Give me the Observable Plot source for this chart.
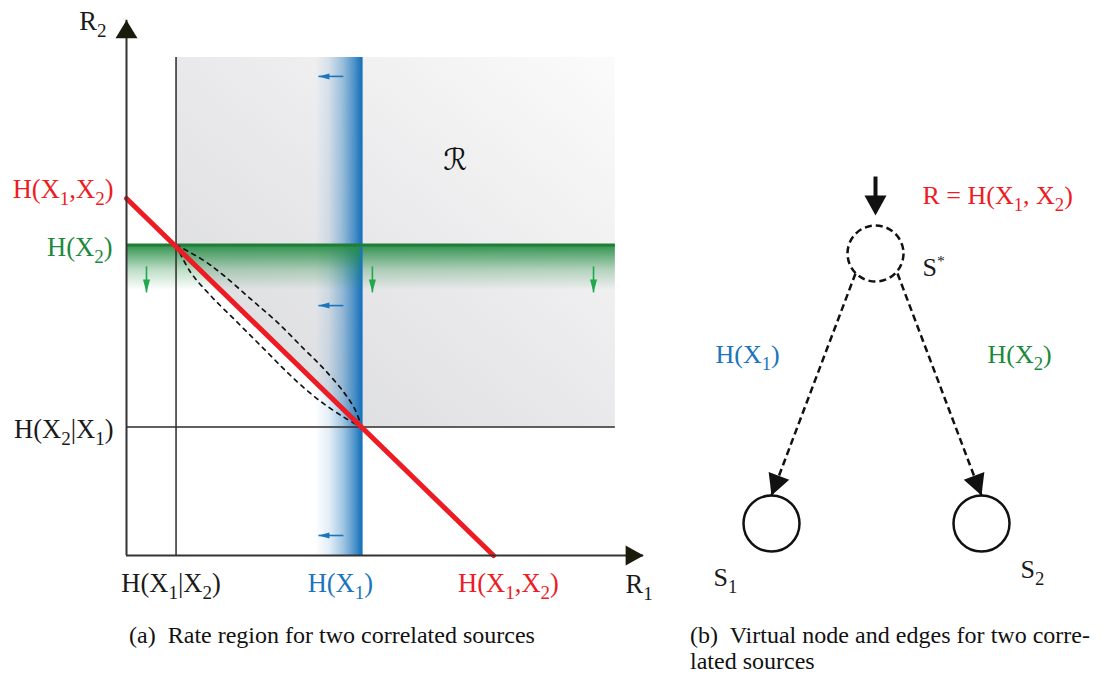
<!DOCTYPE html>
<html><head><meta charset="utf-8">
<script src="https://cdn.jsdelivr.net/npm/d3@7"></script>
<script src="https://cdn.jsdelivr.net/npm/@observablehq/plot@0.6"></script>
<style>
body{margin:0;background:#fff;}
#wrap{position:relative;width:1102px;height:679px;font-family:"Liberation Serif","Times New Roman",serif;color:#111;}
#pa{position:absolute;left:0;top:0;}
#pb{position:absolute;left:660px;top:0;}
.cap{position:absolute;font-size:24px;line-height:26px;white-space:nowrap;}
</style></head><body>
<div id="wrap"><div id="pa"></div><div id="pb"></div>
<div class="cap" style="left:0;width:664px;text-align:center;top:622px">(a)&nbsp; Rate region for two correlated sources</div>
<div class="cap" style="left:690px;width:400px;top:622px;text-align:justify;text-align-last:justify;">(b)&nbsp; Virtual node and edges for two corre-</div>
<div class="cap" style="left:690px;top:648px;">lated sources</div>
</div>
<script>
// ---------- Panel (a): rate region values (rate units) ----------
const H12 = 1.0;     // H(X1,X2)
const H1 = 0.64;     // H(X1)
const H2 = 0.87;     // H(X2)
const H1g2 = 0.135;  // H(X1|X2)
const H2g1 = 0.36;   // H(X2|X1)
const R1max = 1.409; // end of R1 axis
const R2max = 1.499; // end of R2 axis
const regionRight = 1.332;
const regionTop = 1.395;
const blueFadeStart = 0.515;
const greenFadeEnd = 0.742;
const upperCurve = [[H1g2,H2],[0.2106,0.8263],[0.2651,0.7843],[0.3379,0.7190],[0.4106,0.6535],[0.4831,0.5790],[0.5376,0.5230],[0.5921,0.4574],[0.624,0.4062],[H1,H2g1]];
const lowerCurve = [[H1g2,H2],[0.1744,0.7936],[0.2289,0.7283],[0.3016,0.6535],[0.3741,0.5790],[0.4469,0.5042],[0.5196,0.4389],[0.5921,0.3874],[H1,H2g1]];
const blueArrowR2 = [1.342, 0.700, 0.056];
const blueArrowTail = 0.591, blueArrowTip = 0.523;
const greenArrowR1 = [0.0545, 0.670, 1.2725];
const greenArrowTail = 0.810, greenArrowTip = 0.737;

// ---------- Panel (b): node-link layout ----------
const nodes = [
  {id:"S*", x:875, y:253, dashed:true},
  {id:"S1", x:771, y:523, dashed:false},
  {id:"S2", x:981, y:523, dashed:false}
];
const nodeRadius = 28;
const edges = [
  {label:"H(X_1)", x1:855, y1:273, x2:771, y2:495},
  {label:"H(X_2)", x1:897, y1:273, x2:981, y2:495}
];
const inputArrow = {x:875, y1:176, y2:215};

const red = "#ed1c24", blue = "#1b75bc", green = "#1c8a3d", greenArrow = "#1fa84c", ink = "#1a1a1a", headInk = "#1b1b0c";

const labelsA = [
  {x:0, y:R2max, text:"R_2", fill:ink, anchor:"end", dx:-20, dy:10},
  {x:0, y:H12, text:"H(X_1,X_2)", fill:red, anchor:"end", dx:-13, dy:0},
  {x:0, y:H2, text:"H(X_2)", fill:green, anchor:"end", dx:-14, dy:11},
  {x:0, y:H2g1, text:"H(X_2|X_1)", fill:ink, anchor:"end", dx:-13, dy:11},
  {x:H1g2, y:0, text:"H(X_1|X_2)", fill:ink, anchor:"middle", dx:-5, dy:36},
  {x:H1, y:0, text:"H(X_1)", fill:blue, anchor:"middle", dx:-21, dy:36},
  {x:H12, y:0, text:"H(X_1,X_2)", fill:red, anchor:"middle", dx:15, dy:36},
  {x:R1max, y:0, text:"R_1", fill:ink, anchor:"start", dx:-18, dy:37}
];
const regionLabel = {x:0.896, y:1.106, text:"ℛ"};

const labelsB = [
  {x:922, y:203, text:"R = H(X_1, X_2)", fill:red},
  {x:922, y:275, text:"S^*", fill:ink},
  {x:715, y:362, text:"H(X_1)", fill:blue},
  {x:987, y:362, text:"H(X_2)", fill:green},
  {x:713, y:585, text:"S_1", fill:ink},
  {x:1020, y:577, text:"S_2", fill:ink}
];

// arrowhead symbol: tip at origin, pointing up
function head(L, W) {
  return {draw(ctx) { ctx.moveTo(0, 0); ctx.lineTo(-W/2, L); ctx.lineTo(W/2, L); ctx.closePath(); }};
}

const font = "Liberation Serif, Times New Roman, serif";

const region = [
  {x:H1g2, y1:H2, y2:regionTop},
  {x:H1, y1:H2g1, y2:regionTop},
  {x:regionRight, y1:H2g1, y2:regionTop}
];

const pa = Plot.plot({
  width:660, height:610, marginLeft:126, marginRight:0, marginTop:0, marginBottom:55,
  x:{domain:[0,1.455], axis:null},
  y:{domain:[0,1.5546], axis:null},
  color:{type:"identity"},
  style:{fontFamily:font, fontSize:"26.5px", overflow:"visible", background:"transparent"},
  marks:[
    Plot.areaY(region, {x:"x", y1:"y1", y2:"y2", fill:"url(#grayGrad)"}),
    Plot.rect([{x1:blueFadeStart, x2:H1, y1:0, y2:regionTop}], {x1:"x1", x2:"x2", y1:"y1", y2:"y2", fill:"url(#blueGrad)", inset:0}),
    Plot.rect([{x1:0, x2:regionRight, y1:greenFadeEnd, y2:H2}], {x1:"x1", x2:"x2", y1:"y1", y2:"y2", fill:"url(#greenGrad)", inset:0}),
    Plot.ruleX([H1], {y1:0, y2:regionTop, stroke:blue, strokeWidth:2.5}),
    Plot.ruleY([H2], {x1:0, x2:regionRight, stroke:"#1e7d37", strokeWidth:3}),
    Plot.ruleX([H1g2], {y1:0, y2:regionTop, stroke:"#2b2b2b", strokeWidth:1.5}),
    Plot.ruleY([H2g1], {x1:0, x2:regionRight, stroke:"#2b2b2b", strokeWidth:1.5}),
    Plot.line(upperCurve, {x:d=>d[0], y:d=>d[1], curve:"catmull-rom", stroke:"#111", strokeWidth:1.7, strokeDasharray:"4,5"}),
    Plot.line(lowerCurve, {x:d=>d[0], y:d=>d[1], curve:"catmull-rom", stroke:"#111", strokeWidth:1.7, strokeDasharray:"4,5"}),
    Plot.line([[0,H12],[H12,0]], {x:d=>d[0], y:d=>d[1], stroke:red, strokeWidth:5}),
    // blue arrows
    Plot.link(blueArrowR2, {x1:blueArrowTail, x2:blueArrowTip, y1:d=>d, y2:d=>d, stroke:blue, strokeWidth:1.6}),
    Plot.dot(blueArrowR2, {x:blueArrowTip, y:d=>d, symbol:head(11,6), rotate:-90, fill:blue, stroke:"none"}),
    // green arrows
    Plot.link(greenArrowR1, {x1:d=>d, x2:d=>d, y1:greenArrowTail, y2:greenArrowTip, stroke:greenArrow, strokeWidth:1.6}),
    Plot.dot(greenArrowR1, {x:d=>d, y:greenArrowTip, symbol:head(13,7), rotate:180, fill:greenArrow, stroke:"none"}),
    // axes
    Plot.ruleX([0], {y1:0, y2:R2max, stroke:"#333", strokeWidth:2}),
    Plot.ruleY([0], {x1:0, x2:R1max, stroke:"#333", strokeWidth:2}),
    Plot.dot([[0,R2max]], {x:d=>d[0], y:d=>d[1], symbol:head(18,22), rotate:0, fill:headInk, stroke:"none"}),
    Plot.dot([[R1max,0]], {x:d=>d[0], y:d=>d[1], symbol:head(18,20), rotate:90, fill:headInk, stroke:"none"}),
    // labels (one mark each, so that each keeps its own offset)
    ...labelsA.map(l => Plot.text([l], {x:"x", y:"y", text:"text", fill:"fill", textAnchor:l.anchor, lineAnchor:"bottom", dx:l.dx, dy:l.dy})),
    Plot.text([regionLabel], {x:"x", y:"y", text:"text", fill:"#111", fontSize:30, fontFamily:"DejaVu Serif, DejaVu Sans, serif", fontStyle:"italic"})
  ]
});

const pb = Plot.plot({
  width:442, height:610, margin:0,
  x:{domain:[660,1102], axis:null},
  y:{domain:[610,0], axis:null},
  color:{type:"identity"},
  style:{fontFamily:font, fontSize:"26px", overflow:"visible", background:"transparent"},
  marks:[
    Plot.link(edges, {x1:"x1", y1:"y1", x2:"x2", y2:"y2", stroke:"#111", strokeWidth:2.5, strokeDasharray:"7,4"}),
    Plot.dot(edges, {x:"x2", y:"y2", symbol:head(21,22), rotate:d=>Math.atan2(d.x2-d.x1, -(d.y2-d.y1))*180/Math.PI, fill:"#111", stroke:"none"}),
    Plot.dot(nodes.filter(d=>d.dashed), {x:"x", y:"y", r:nodeRadius, fill:"white", stroke:"#111", strokeWidth:2.5, strokeDasharray:"7,4"}),
    Plot.dot(nodes.filter(d=>!d.dashed), {x:"x", y:"y", r:nodeRadius, fill:"white", stroke:"#111", strokeWidth:2.5}),
    Plot.link([inputArrow], {x1:"x", x2:"x", y1:"y1", y2:d=>d.y2-15, stroke:"#111", strokeWidth:4}),
    Plot.dot([inputArrow], {x:"x", y:"y2", symbol:head(20,22), rotate:180, fill:"#111", stroke:"none"}),
    Plot.text(labelsB, {x:"x", y:"y", text:"text", fill:"fill", textAnchor:"start", lineAnchor:"bottom"})
  ]
});

function addDefs(svg) {
  const defs = d3.select(svg).insert("defs", ":first-child");
  const g = defs.append("linearGradient").attr("id","grayGrad").attr("x1",0).attr("y1",1).attr("x2",1).attr("y2",0);
  g.append("stop").attr("offset","0").attr("stop-color","#d8d9dc");
  g.append("stop").attr("offset","0.5").attr("stop-color","#e9e9eb");
  g.append("stop").attr("offset","1").attr("stop-color","#fbfbfb");
  const b = defs.append("linearGradient").attr("id","blueGrad").attr("x1",0).attr("y1",0).attr("x2",1).attr("y2",0);
  [[0,0],[0.3,0.12],[0.6,0.4],[0.85,0.75],[1,1]].forEach(([o,a]) => b.append("stop").attr("offset",o).attr("stop-color",blue).attr("stop-opacity",a));
  const gr = defs.append("linearGradient").attr("id","greenGrad").attr("x1",0).attr("y1",0).attr("x2",0).attr("y2",1);
  [[0,0.95],[0.25,0.65],[0.55,0.3],[1,0]].forEach(([o,a]) => gr.append("stop").attr("offset",o).attr("stop-color","#238c42").attr("stop-opacity",a));
}

function subify(svg) {
  d3.select(svg).selectAll("text").each(function() {
    const s = this.textContent;
    if (!/[_^]/.test(s)) return;
    const t = d3.select(this);
    t.text(null);
    const re = /([_^])(\*|\d)/g;
    let last = 0, m, shift = 0;
    while ((m = re.exec(s))) {
      if (m.index > last) {
        const sp = t.append("tspan").text(s.slice(last, m.index));
        if (shift) sp.attr("dy", -shift);
        shift = 0;
      }
      const d = m[1] === "_" ? 7 : -10;
      t.append("tspan").attr("dy", d - shift).attr("font-size", m[1] === "_" ? "0.72em" : "0.6em").text(m[2]);
      shift = d;
      last = re.lastIndex;
    }
    if (last < s.length) {
      const sp = t.append("tspan").text(s.slice(last));
      if (shift) sp.attr("dy", -shift);
    }
  });
}

addDefs(pa);
subify(pa);
subify(pb);

document.getElementById("pa").appendChild(pa);
document.getElementById("pb").appendChild(pb);
</script>
</body></html>
